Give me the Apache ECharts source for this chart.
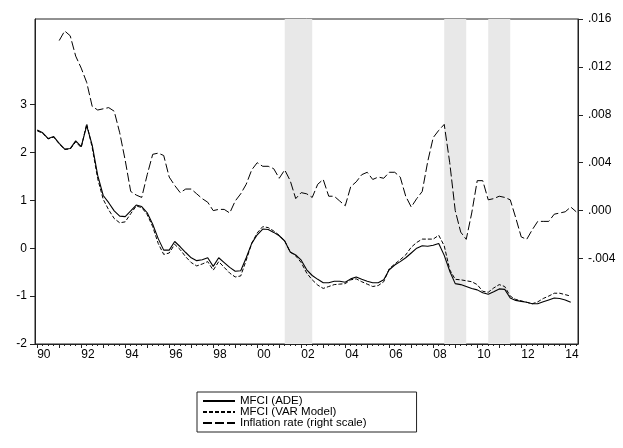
<!DOCTYPE html>
<html>
<head>
<meta charset="utf-8">
<script src="https://cdn.jsdelivr.net/npm/echarts@6/dist/echarts.min.js"></script>
<style>
html,body{margin:0;padding:0;background:#fff;}
#chart{width:623px;height:448px;}
</style>
</head>
<body>
<div id="chart"></div>
<script>
// Quarterly data, first observation year/quarter
const mfciStart = [1990, 1];
const mfciADE = [2.47,2.41,2.29,2.33,2.19,2.07,2.08,2.24,2.12,2.56,
  2.15,1.52,1.10,0.95,0.78,0.67,0.66,0.78,0.90,0.87,
  0.74,0.50,0.20,-0.04,-0.04,0.14,0.03,-0.09,-0.20,-0.26,
  -0.24,-0.20,-0.38,-0.20,-0.30,-0.40,-0.48,-0.47,-0.20,0.10,
  0.28,0.40,0.39,0.33,0.26,0.15,-0.08,-0.14,-0.25,-0.45,
  -0.57,-0.65,-0.72,-0.72,-0.69,-0.69,-0.71,-0.64,-0.60,-0.65,
  -0.69,-0.72,-0.72,-0.66,-0.45,-0.35,-0.28,-0.20,-0.10,0.00,
  0.05,0.04,0.06,0.10,-0.15,-0.48,-0.74,-0.76,-0.80,-0.84,
  -0.87,-0.93,-0.96,-0.91,-0.85,-0.86,-1.04,-1.09,-1.11,-1.13,
  -1.16,-1.16,-1.12,-1.08,-1.04,-1.05,-1.08,-1.13];
const mfciVAR = [2.45,2.40,2.28,2.32,2.18,2.06,2.07,2.22,2.10,2.60,
  2.10,1.45,1.02,0.80,0.62,0.53,0.55,0.72,0.88,0.85,
  0.70,0.45,0.10,-0.13,-0.10,0.08,-0.03,-0.18,-0.30,-0.37,
  -0.33,-0.28,-0.46,-0.28,-0.40,-0.52,-0.60,-0.58,-0.25,0.10,
  0.32,0.45,0.43,0.36,0.27,0.15,-0.08,-0.16,-0.30,-0.52,
  -0.66,-0.77,-0.84,-0.80,-0.76,-0.75,-0.74,-0.66,-0.64,-0.70,
  -0.75,-0.80,-0.78,-0.70,-0.43,-0.33,-0.24,-0.14,0.02,0.12,
  0.19,0.19,0.19,0.27,0.05,-0.45,-0.65,-0.66,-0.68,-0.70,
  -0.76,-0.90,-0.92,-0.83,-0.76,-0.80,-1.00,-1.07,-1.10,-1.13,
  -1.16,-1.12,-1.05,-1.00,-0.94,-0.94,-0.97,-1.00];
const inflStart = [1991, 1];
const inflation = [0.0142,0.0150,0.0146,0.0129,0.0119,0.0107,0.0087,0.0084,0.0085,0.0086,
  0.0083,0.0065,0.0042,0.0016,0.0013,0.0011,0.0030,0.0047,0.0048,0.0046,
  0.0028,0.0021,0.0015,0.0018,0.0018,0.0014,0.0010,0.0007,0.0000,0.0001,
  0.0001,-0.0002,0.0008,0.0014,0.0022,0.0034,0.0040,0.0037,0.0037,0.0035,
  0.0027,0.0034,0.0025,0.0010,0.0015,0.0014,0.0011,0.0022,0.0026,0.0012,
  0.0012,0.0008,0.0004,0.0020,0.0024,0.0030,0.0032,0.0026,0.0028,0.0027,
  0.0032,0.0032,0.0028,0.0012,0.0003,0.0010,0.0016,0.0041,0.0061,0.0067,
  0.0072,0.0040,0.0000,-0.0018,-0.0024,-0.0002,0.0025,0.0025,0.0009,0.0010,
  0.0012,0.0011,0.0009,-0.0006,-0.0022,-0.0024,-0.0016,-0.0009,-0.0009,-0.0009,
  -0.0003,-0.0002,-0.0001,0.0003,-0.0001];
const recessions = [[2001.25, 2002.5], [2008.5, 2009.5], [2010.5, 2011.5]];
const leftTicks = [-2, -1, 0, 1, 2, 3];
const rightTicks = [-0.004, 0, 0.004, 0.008, 0.012, 0.016];
const yearTicks = [];
for (let y = 1990; y <= 2014; y++) yearTicks.push(y);
const yearLabels = yearTicks.filter(y => y % 2 === 0);
const seriesNames = ['MFCI (ADE)', 'MFCI (VAR Model)', 'Inflation rate (right scale)'];

function toPairs(start, vals) {
  const t0 = start[0] + (start[1] - 1) / 4;
  return vals.map((v, i) => [t0 + i / 4, v]);
}
const quarterTicks = [];
for (let k = 0; k <= 98; k++) quarterTicks.push(1990 + k / 4);

const X_MIN = 1989.9, X_MAX = 2014.58;
const font = 'Liberation Sans, Arial, sans-serif';

const chart = echarts.init(document.getElementById('chart'), null, {renderer: 'canvas'});
chart.setOption({
  animation: false,
  backgroundColor: '#fff',
  textStyle: {fontFamily: font, color: '#000'},
  grid: {left: 35, right: 45, top: 19, bottom: 104, show: true, borderColor: '#222', borderWidth: 1, containLabel: false},
  legend: {
    data: seriesNames,
    orient: 'vertical',
    left: 197, top: 392,
    itemWidth: 32, itemHeight: 8, itemGap: -1,
    padding: [3, 50, 3, 5],
    borderColor: '#222', borderWidth: 1,
    itemStyle: {opacity: 0},
    textStyle: {fontFamily: font, fontSize: 11.5, color: '#000'},
    selectedMode: false
  },
  xAxis: [{
    type: 'value', min: X_MIN, max: X_MAX, position: 'bottom',
    axisLine: {show: true, onZero: false, lineStyle: {color: '#222', width: 1}},
    axisTick: {show: true, customValues: yearTicks, length: 4, lineStyle: {color: '#222'}},
    axisLabel: {customValues: yearLabels, formatter: v => String(Math.round(v)).slice(2), align: 'left', margin: 5, fontSize: 12, color: '#000', fontFamily: font},
    splitLine: {show: false}
  }, {
    type: 'value', min: X_MIN, max: X_MAX, position: 'bottom',
    axisLine: {show: false, onZero: false},
    axisTick: {show: true, customValues: quarterTicks, length: 2, lineStyle: {color: '#222'}},
    axisLabel: {show: false},
    splitLine: {show: false}
  }],
  yAxis: [{
    type: 'value', min: -2, max: 4.785, position: 'left',
    axisLine: {show: true, onZero: false, lineStyle: {color: '#222', width: 1}},
    axisTick: {show: true, customValues: leftTicks, length: 5, lineStyle: {color: '#222'}},
    axisLabel: {customValues: leftTicks, margin: 8, fontSize: 12, color: '#000', fontFamily: font},
    splitLine: {show: false}
  }, {
    type: 'value', min: -0.01114, max: 0.016, position: 'right',
    axisLine: {show: true, onZero: false, lineStyle: {color: '#222', width: 1}},
    axisTick: {show: true, customValues: rightTicks, length: 5, lineStyle: {color: '#222'}},
    axisLabel: {customValues: rightTicks, margin: 10, fontSize: 12, color: '#000', fontFamily: font,
      formatter: v => Number(v).toFixed(3).replace('0.', '.')},
    splitLine: {show: false}
  }],
  series: [{
    type: 'line', data: [], xAxisIndex: 0, yAxisIndex: 0, z: 1, silent: true,
    markArea: {silent: true, itemStyle: {color: '#e8e8e8'},
      data: recessions.map(r => [{xAxis: r[0]}, {xAxis: r[1]}])}
  }, {
    name: seriesNames[0], type: 'line', xAxisIndex: 0, yAxisIndex: 0, z: 3,
    data: toPairs(mfciStart, mfciADE), symbol: 'none', showSymbol: false,
    color: '#000', lineStyle: {color: '#000', width: 1.1, type: 'solid'}
  }, {
    name: seriesNames[1], type: 'line', xAxisIndex: 0, yAxisIndex: 0, z: 3,
    data: toPairs(mfciStart, mfciVAR), symbol: 'none', showSymbol: false,
    color: '#000', lineStyle: {color: '#000', width: 1, type: [4, 2]}
  }, {
    name: seriesNames[2], type: 'line', xAxisIndex: 0, yAxisIndex: 1, z: 3,
    data: toPairs(inflStart, inflation), symbol: 'none', showSymbol: false,
    color: '#000', lineStyle: {color: '#000', width: 1, type: [9, 3]}
  }]
});
</script>
</body>
</html>
